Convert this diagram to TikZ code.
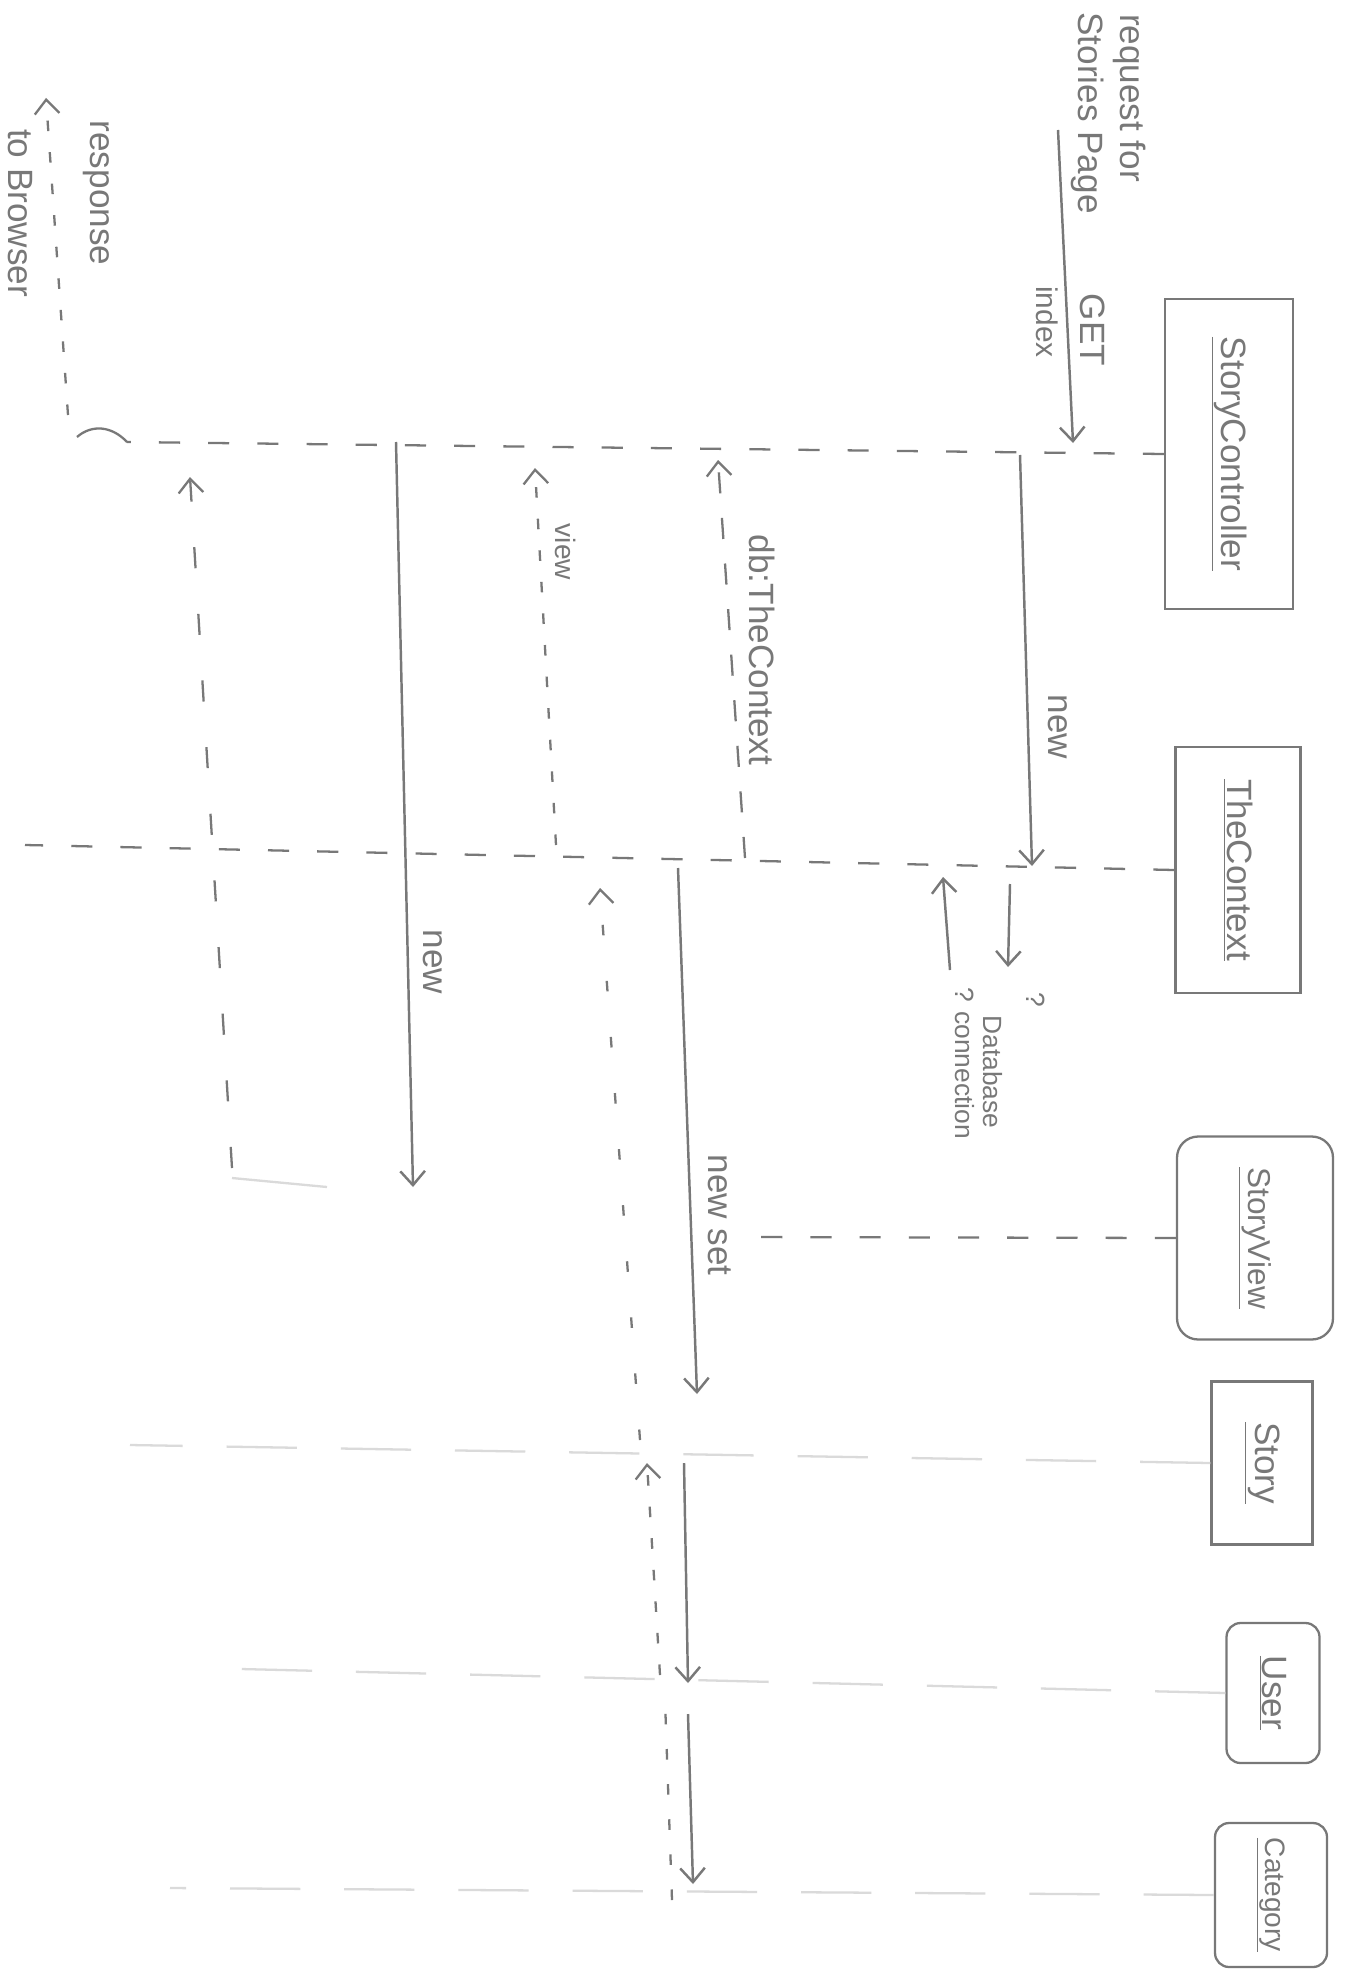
\documentclass[tikz,border=0pt]{standalone}
\usepackage{fontspec}
\setmainfont{Liberation Sans}
\usetikzlibrary{arrows.meta}
\definecolor{pencil}{RGB}{120,120,120}
\definecolor{faint}{RGB}{218,218,218}
\begin{document}
\begin{tikzpicture}[x=0.02cm,y=-0.02cm,
  every node/.style={text=pencil, font=\fontsize{20}{24}\selectfont, inner sep=0pt},
  lbl/.style={rotate=-90},
  small/.style={rotate=-90, font=\fontsize{15}{18}\selectfont},
  actor/.style={draw=pencil, line width=1.3pt, rotate=-90, inner sep=0pt},
  life/.style={draw=pencil, line width=1.3pt, dash pattern=on 12pt off 16pt},
  faintlife/.style={draw=faint, line width=1.3pt, dash pattern=on 40pt off 25pt},
  msg/.style={draw=pencil, line width=1.4pt, -{Straight Barb[length=8pt,width=14pt]}},
  ret/.style={draw=pencil, line width=1.3pt, dash pattern=on 12pt off 14pt, -{Straight Barb[length=8pt,width=14pt]}},
  dotret/.style={draw=pencil, line width=1.3pt, dash pattern=on 6pt off 12pt, -{Straight Barb[length=8pt,width=14pt]}}
]
\fill[white] (0,0) rectangle (1350,1970);
\useasboundingbox (0,0) rectangle (1350,1970);

% participants
\node[actor, minimum width=6.2cm, minimum height=2.56cm] (sc) at (1229,454) {\underline{StoryController}};
\node[actor, minimum width=4.92cm, minimum height=2.5cm] (tc) at (1238,870) {\underline{TheContext}};
\node[actor, rounded corners=12pt, minimum width=4.06cm, minimum height=3.12cm, font=\fontsize{18}{22}\selectfont] (sv) at (1255,1238) {\underline{StoryView}};
\node[actor, minimum width=3.26cm, minimum height=2.02cm] (story) at (1262,1463) {\underline{Story}};
\node[actor, rounded corners=8pt, minimum width=2.8cm, minimum height=1.86cm] (user) at (1273,1693) {\underline{User}};
\node[actor, rounded corners=8pt, minimum width=2.88cm, minimum height=2.24cm, font=\fontsize{16}{20}\selectfont] (cat) at (1271,1895) {\underline{Category}};

% lifelines
\coordinate (scL) at (127,442);
\coordinate (tcL) at (25,845);
\coordinate (svL) at (741,1237);
\coordinate (stL) at (130,1445);
\coordinate (usL) at (200,1668);
\coordinate (caL) at (170,1888);
\draw[life] (sc.south) -- (scL);
\draw[pencil, line width=1.3pt] (77,437) .. controls (92,424) and (112,426) .. (127,442);
\draw[life] (tc.south) -- (tcL);
\draw[life] (sv.south) -- (svL);
\draw[faintlife] (story.south) -- (stL);
\draw[faintlife] (user.south) -- (usL);
\draw[faintlife] (cat.south) -- (caL);
\coordinate (stubA) at (232,1178);
\coordinate (stubB) at (327,1187);
\draw[faint, line width=1.3pt] (stubA) -- (stubB);

% request GET index
\coordinate (reqS) at (1058,130);
\coordinate (reqE) at (1073,443);
\draw[msg] (reqS) -- (reqE);
\node[lbl] (lreq1) at (1130,98) {request for};
\node[lbl] (lreq2) at (1088,113) {Stories Page};
\node[lbl] (lget) at (1093,330) {GET};
\node[lbl, font=\fontsize{17}{20}\selectfont] (lidx) at (1047,322) {index};

% new TheContext
\coordinate (n1S) at (1020,455);
\coordinate (n1E) at (1032,866);
\draw[msg] (n1S) -- (n1E);
\node[lbl] (ln1) at (1058,727) {new};

% database connection
\coordinate (dbS) at (1010,884);
\coordinate (dbE) at (1008,967);
\draw[msg] (dbS) -- (dbE);
\coordinate (dbrS) at (950,970);
\coordinate (dbrE) at (943,877);
\draw[msg] (dbrS) -- (dbrE);
\node[small] (lq) at (1036,1000) {?};
\node[small] (ldb1) at (993,1072) {Database};
\node[small] (ldb2) at (965,1063) {? connection};

% db:TheContext return
\coordinate (r1S) at (745,858);
\coordinate (r1E) at (718,460);
\draw[ret] (r1S) -- (r1E);
\node[lbl] (lr1) at (762,650) {db:TheContext};

% view return
\coordinate (r2S) at (556,845);
\coordinate (r2E) at (535,468);
\draw[dotret] (r2S) -- (r2E);
\node[lbl, font=\fontsize{16}{20}\selectfont] (lr2) at (566,552) {view};

% new StoryView
\coordinate (n2S) at (396,442);
\coordinate (n2E) at (413,1187);
\draw[msg] (n2S) -- (n2E);
\node[lbl] (ln2) at (433,962) {new};

% view return to controller
\coordinate (r3S) at (232,1168);
\coordinate (r3E) at (190,477);
\draw[ret, dash pattern=on 12pt off 26pt] (r3S) -- (r3E);

% response to browser
\coordinate (r4S) at (68,415);
\coordinate (r4E) at (46,98);
\draw[dotret] (r4S) -- (r4E);
\node[lbl] (lr4a) at (96,193) {response};
\node[lbl] (lr4b) at (20,213) {to Browser};

% new set
\coordinate (n3S) at (678,868);
\coordinate (n3E) at (697,1394);
\draw[msg] (n3S) -- (n3E);
\node[lbl] (ln3) at (720,1215) {new set};

% further calls
\coordinate (n4S) at (684,1463);
\coordinate (n4E) at (688,1683);
\draw[msg] (n4S) -- (n4E);
\coordinate (n5S) at (688,1714);
\coordinate (n5E) at (693,1884);
\draw[msg] (n5S) -- (n5E);

% returns
\coordinate (r5S) at (660,1675);
\coordinate (r5E) at (647,1463);
\draw[dotret] (r5S) -- (r5E);
\coordinate (r6S) at (672,1900);
\coordinate (r6E) at (665,1700);
\draw[pencil, line width=1.3pt, dash pattern=on 6pt off 14pt] (r6S) -- (r6E);
\coordinate (r7S) at (640,1440);
\coordinate (r7E) at (600,888);
\draw[dotret, dash pattern=on 6pt off 26pt] (r7S) -- (r7E);
\end{tikzpicture}
\end{document}
